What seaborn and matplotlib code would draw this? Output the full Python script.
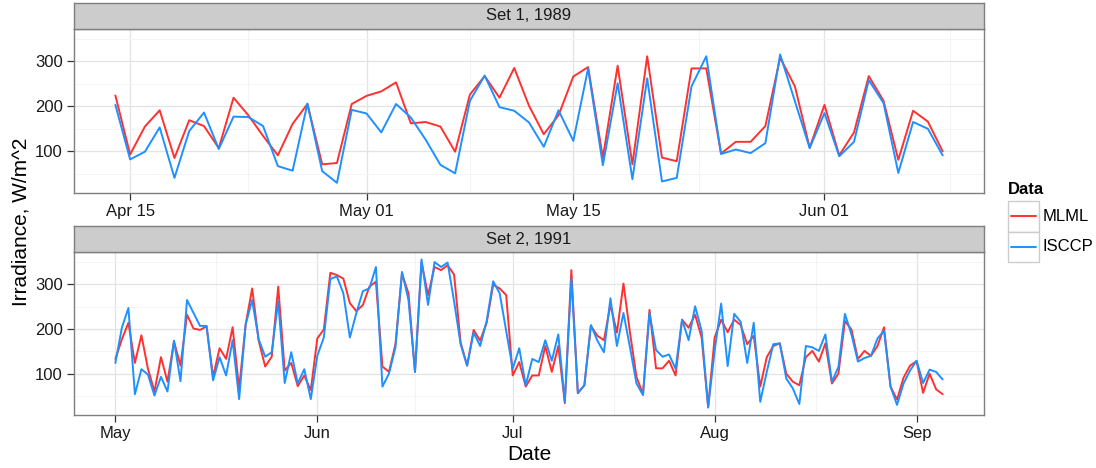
import numpy as np
import pandas as pd
import matplotlib
matplotlib.use("Agg")
import matplotlib.pyplot as plt
import matplotlib.dates as mdates
from matplotlib.patches import Rectangle
from matplotlib.lines import Line2D
from matplotlib.ticker import FixedLocator
import seaborn as sns

# ---------------- data ----------------
series_names = ["MLML", "ISCCP"]
series_colors = ["#FF3030", "#1E90FF"]
panel_titles = ["Set 1, 1989", "Set 2, 1991"]

set1_start = "1989-04-14"
set1_mlml = [224, 93, 155, 191, 85, 169, 156, 107, 219, 180, 134, 91, 161, 205, 71, 74, 205,
             223, 233, 253, 162, 165, 155, 99, 226, 267, 219, 285, 201, 138, 180, 266, 287, 86,
             290, 71, 311, 86, 78, 284, 284, 95, 121, 121, 156, 308, 244, 108,
             203, 91, 142, 267, 212, 81, 190, 166, 100]
set1_isccp = [203, 82, 99, 153, 41, 145, 186, 105, 177, 176, 156, 67, 57, 206, 56, 30, 192,
              184, 142, 205, 175, 126, 70, 51, 212, 268, 198, 190, 164, 110, 191, 123, 284, 69,
              251, 38, 262, 33, 41, 244, 311, 94, 104, 96, 118, 315, 211, 107,
              185, 89, 121, 258, 207, 52, 165, 150, 91]

set2_start = "1991-05-01"
set2_mlml = [133, 177, 214, 124, 186, 111, 60, 137, 82, 172, 118, 232, 201, 198, 206, 93, 157, 133,
             204, 67, 210, 291, 174, 116,
             138, 295, 107, 124, 72, 96, 63, 179, 199, 326, 321, 313, 258, 240, 254, 295, 306, 116,
             104, 166, 324, 280, 104, 350, 276, 339, 332, 343,
             322, 170, 118, 198, 174, 214, 299, 291, 276,
             96, 126, 71, 96, 96, 162, 104, 162, 34, 332, 56, 74, 207, 185, 175, 254, 192, 302,
             192, 93, 54, 243, 112, 112, 129, 96, 221, 203, 232, 181, 26,
             181, 221, 193, 221, 209, 166, 185, 71, 137, 162, 168, 100, 82, 74, 137,
             151, 127, 168, 78, 100, 218, 199, 133, 151, 140, 162, 204, 71, 42, 91, 118,
             128, 57, 100, 65, 54]
set2_isccp = [124, 203, 247, 54, 110, 98, 51, 93, 60, 174, 83, 265, 236, 207, 207, 85, 137, 96,
              175, 43, 210, 265, 177, 138,
              148, 262, 79, 148, 78, 110, 43, 140, 181, 312, 318, 280, 181, 236, 285, 291, 339, 71,
              100, 159, 328, 265, 104, 356, 254, 350, 339, 349,
              262, 166, 118, 192, 162, 218, 307, 280, 196,
              111, 157, 74, 133, 126, 175, 129, 188, 37, 313, 57, 74, 209, 174, 148, 269, 162, 236,
              159, 78, 52, 236, 153, 138, 143, 111, 221, 175, 251, 196, 24,
              151, 257, 117, 234, 216, 124, 214, 37, 104, 166, 168, 89, 67, 32, 162,
              159, 151, 188, 82, 115, 234, 188, 127, 135, 140, 179, 196, 71, 30, 78, 107,
              129, 79, 109, 104, 87]

set1_ticks = ["1989-04-15", "1989-05-01", "1989-05-15", "1989-06-01"]
set1_ticklabels = ["Apr 15", "May 01", "May 15", "Jun 01"]
set2_ticks = ["1991-05-01", "1991-06-01", "1991-07-01", "1991-08-01", "1991-09-01"]
set2_ticklabels = ["May", "Jun", "Jul", "Aug", "Sep"]
y_ticks = [100, 200, 300]
y_minor = [50, 150, 250, 350]


def make_df(start, mlml, isccp):
    dates = pd.date_range(start, periods=len(mlml), freq="D")
    return pd.concat([
        pd.DataFrame({"Date": dates, "Irradiance": mlml, "Data": series_names[0]}),
        pd.DataFrame({"Date": dates, "Irradiance": isccp, "Data": series_names[1]}),
    ], ignore_index=True)


df1 = make_df(set1_start, set1_mlml, set1_isccp)
df2 = make_df(set2_start, set2_mlml, set2_isccp)

# ---------------- style ----------------
sns.set_theme(style="white")
plt.rcParams["font.family"] = ["Liberation Sans", "DejaVu Sans"]

W, H = 1096, 468
fig = plt.figure(figsize=(W / 100, H / 100), dpi=100)
fig.patch.set_facecolor("white")


def fx(px):
    return px / W


def fy(py):
    return 1 - py / H


left_px, right_px = 74, 984
panels = [
    dict(df=df1, top=28.5, bottom=193, stop=3.3, ticks=set1_ticks, labels=set1_ticklabels, title=panel_titles[0]),
    dict(df=df2, top=252, bottom=415, stop=226, ticks=set2_ticks, labels=set2_ticklabels, title=panel_titles[1]),
]

allv = np.array(set1_mlml + set1_isccp + set2_mlml + set2_isccp, dtype=float)
yr = allv.max() - allv.min()
ylim = (allv.min() - 0.05 * yr, allv.max() + 0.05 * yr)

palette = dict(zip(series_names, series_colors))
border = "#7F7F7F"

for p in panels:
    ax = fig.add_axes([fx(left_px), fy(p["bottom"]), fx(right_px - left_px), (p["bottom"] - p["top"]) / H])
    ax.set_facecolor("white")
    sns.lineplot(data=p["df"], x="Date", y="Irradiance", hue="Data", palette=palette,
                 hue_order=series_names, estimator=None, sort=False, lw=1.4, ax=ax, legend=False)
    d = mdates.date2num(p["df"]["Date"])
    span = d.max() - d.min()
    ax.set_xlim(d.min() - 0.05 * span, d.max() + 0.05 * span)
    ax.set_ylim(*ylim)
    tk = mdates.date2num(pd.to_datetime(p["ticks"]))
    ax.set_xticks(tk)
    ax.set_xticklabels(p["labels"])
    mids = list((tk[:-1] + tk[1:]) / 2)
    mids = [tk[0] - (tk[1] - tk[0]) / 2] + mids + [tk[-1] + (tk[-1] - tk[-2]) / 2]
    ax.xaxis.set_minor_locator(FixedLocator(mids))
    ax.set_yticks(y_ticks)
    ax.yaxis.set_minor_locator(FixedLocator(y_minor))
    ax.grid(which="major", color="#E3E3E3", lw=0.9)
    ax.grid(which="minor", color="#F4F4F4", lw=0.7)
    ax.set_axisbelow(True)
    ax.tick_params(which="major", direction="out", length=5, width=0.9, color="#333333",
                   labelsize=12, labelcolor="#1A1A1A", bottom=True, left=True, top=False, right=False)
    ax.tick_params(axis="x", pad=3)
    ax.tick_params(axis="y", pad=3.2)
    ax.tick_params(which="minor", length=0)
    for s in ax.spines.values():
        s.set_color(border)
        s.set_linewidth(1.0)
        s.set_visible(True)
    ax.set_xlabel("")
    ax.set_ylabel("")

    sax = fig.add_axes([fx(left_px), fy(p["top"]), fx(right_px - left_px), (p["top"] - p["stop"]) / H])
    sax.set_facecolor("#CCCCCC")
    sax.set_xticks([])
    sax.set_yticks([])
    for s in sax.spines.values():
        s.set_color(border)
        s.set_linewidth(1.0)
    sax.text(0.5, 0.5, p["title"], ha="center", va="center", fontsize=12, color="#1A1A1A",
             transform=sax.transAxes)

# axis titles
fig.text(fx(529), fy(455), "Date", ha="center", va="center", fontsize=15, color="black")
fig.text(fx(21), fy(222), "Irradiance, W/m^2", ha="center", va="center", rotation=90,
         fontsize=15, color="black")

# legend
fig.text(fx(1008), fy(190), "Data", ha="left", va="center", fontsize=12, fontweight="bold", color="black")
key_x, key_w, key_h = 1008, 30.5, 30.5
for i, (name, col) in enumerate(zip(series_names, series_colors)):
    ktop = 201 + i * key_h
    fig.add_artist(Rectangle((fx(key_x), fy(ktop + key_h)), fx(key_w), key_h / H,
                             transform=fig.transFigure, facecolor="white", edgecolor="#CCCCCC", lw=1.0))
    yc = ktop + key_h / 2
    fig.add_artist(Line2D([fx(key_x + 3), fx(key_x + key_w - 3)], [fy(yc), fy(yc)],
                          transform=fig.transFigure, color=col, lw=1.4))
    fig.text(fx(1043), fy(yc), name, ha="left", va="center", fontsize=12, color="black")

fig.savefig("out.png", dpi=100, facecolor="white")
